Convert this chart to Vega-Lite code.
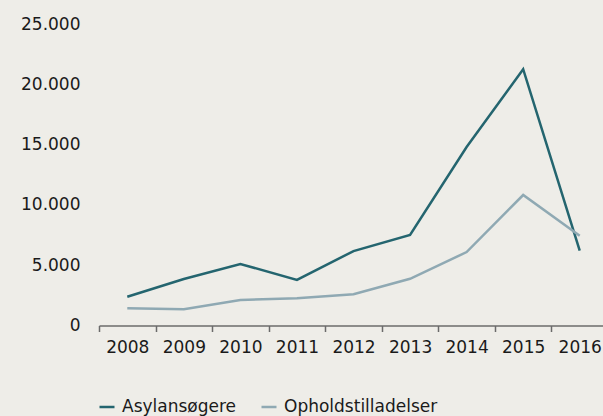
{
  "$schema": "https://vega.github.io/schema/vega-lite/v6.json",
  "autosize": {"type": "none"},
  "width": 509,
  "height": 301.5,
  "padding": {"left": 99, "top": 24, "right": 0, "bottom": 90},
  "background": "#eeede8",
  "data": {"values": [
    {"year": "2008", "series": "Asylansøgere", "value": 2380},
    {"year": "2009", "series": "Asylansøgere", "value": 3860},
    {"year": "2010", "series": "Asylansøgere", "value": 5100},
    {"year": "2011", "series": "Asylansøgere", "value": 3780},
    {"year": "2012", "series": "Asylansøgere", "value": 6170},
    {"year": "2013", "series": "Asylansøgere", "value": 7500},
    {"year": "2014", "series": "Asylansøgere", "value": 14800},
    {"year": "2015", "series": "Asylansøgere", "value": 21250},
    {"year": "2016", "series": "Asylansøgere", "value": 6200},
    {"year": "2008", "series": "Opholdstilladelser", "value": 1430},
    {"year": "2009", "series": "Opholdstilladelser", "value": 1340},
    {"year": "2010", "series": "Opholdstilladelser", "value": 2110},
    {"year": "2011", "series": "Opholdstilladelser", "value": 2260},
    {"year": "2012", "series": "Opholdstilladelser", "value": 2590},
    {"year": "2013", "series": "Opholdstilladelser", "value": 3870},
    {"year": "2014", "series": "Opholdstilladelser", "value": 6090},
    {"year": "2015", "series": "Opholdstilladelser", "value": 10820},
    {"year": "2016", "series": "Opholdstilladelser", "value": 7450}
  ]},
  "mark": {"type": "line", "strokeWidth": 2.5, "strokeJoin": "miter"},
  "encoding": {
    "x": {
      "field": "year", "type": "ordinal",
      "scale": {"type": "band", "paddingInner": 0, "paddingOuter": 0},
      "axis": {
        "title": null, "labelAngle": 0, "tickBand": "extent",
        "domainColor": "#6b6b6b", "domainWidth": 1.5, "tickColor": "#6b6b6b", "tickWidth": 1.5,
        "tickSize": 6, "labelPadding": 8, "labelFontSize": 17, "labelColor": "#1a1a1a",
        "labelFont": "DejaVu Sans", "grid": false
      }
    },
    "y": {
      "field": "value", "type": "quantitative",
      "scale": {"domain": [0, 25000]},
      "axis": {
        "title": null, "values": [0, 5000, 10000, 15000, 20000, 25000],
        "domain": false, "ticks": false, "grid": false,
        "labelPadding": 19, "labelFontSize": 17, "labelColor": "#1a1a1a",
        "labelFont": "DejaVu Sans",
        "labelExpr": "replace(format(datum.value, ','), ',', '.')"
      }
    },
    "color": {
      "field": "series", "type": "nominal",
      "scale": {"domain": ["Asylansøgere", "Opholdstilladelser"], "range": ["#24656f", "#8fa9b3"]},
      "legend": {
        "title": null, "orient": "none", "direction": "horizontal",
        "legendX": -1, "legendY": 374,
        "symbolType": "stroke", "symbolSize": 225, "symbolStrokeWidth": 2.5,
        "labelFontSize": 17, "labelFont": "DejaVu Sans", "labelColor": "#1a1a1a",
        "labelOffset": 6, "columnPadding": 19
      }
    }
  },
  "config": {"view": {"stroke": null}}
}
